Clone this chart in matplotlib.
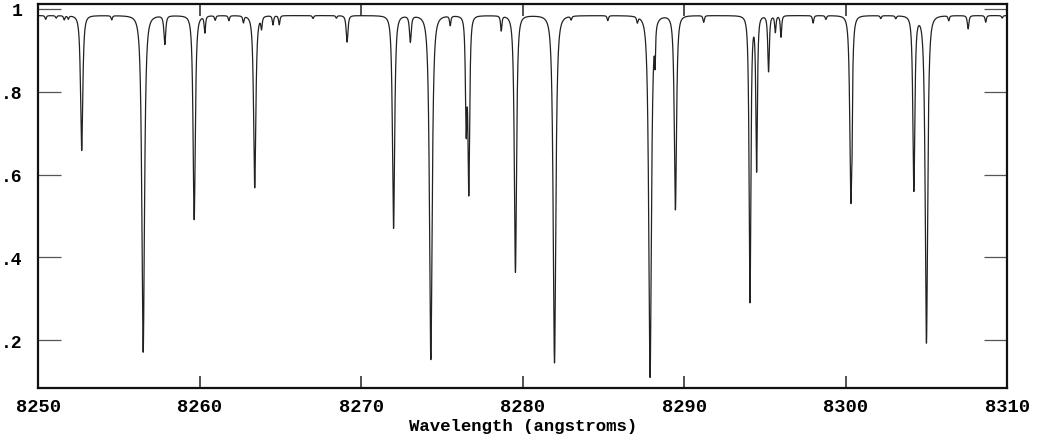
import numpy as np
import matplotlib.pyplot as plt
from matplotlib.ticker import FuncFormatter

# continuum level and absorption lines
continuum = 0.984

# strong / medium lines: centre (angstrom), minimum flux, half width (angstrom)
line_centres = [8252.68, 8256.49, 8257.83, 8259.65, 8260.31, 8263.40, 8263.82,
                8269.12, 8272.00, 8273.04, 8274.31, 8276.50, 8276.66, 8278.67,
                8279.55, 8281.97, 8287.89, 8288.20, 8289.46, 8294.08, 8294.49,
                8295.23, 8300.33, 8300.40, 8304.23, 8305.01, 8307.59]
line_minima = [0.658, 0.171, 0.915, 0.491, 0.944, 0.568, 0.956,
               0.920, 0.470, 0.921, 0.153, 0.72, 0.56, 0.948,
               0.364, 0.145, 0.110, 0.90, 0.515, 0.291, 0.610,
               0.849, 0.533, 0.86, 0.561, 0.193, 0.952]
line_widths = [0.10, 0.12, 0.08, 0.10, 0.06, 0.10, 0.06,
               0.08, 0.10, 0.08, 0.12, 0.07, 0.08, 0.06,
               0.10, 0.12, 0.12, 0.04, 0.10, 0.08, 0.07,
               0.07, 0.10, 0.025, 0.09, 0.11, 0.07]

# weak lines along the continuum
weak_centres = [8250.45, 8251.10, 8251.60, 8251.85, 8254.54, 8260.95, 8261.80,
                8262.70, 8264.53, 8264.92, 8267.01, 8268.46, 8275.51, 8283.00,
                8285.27, 8287.10, 8291.21, 8295.65, 8296.00, 8297.99, 8298.78,
                8302.18, 8303.11, 8306.39, 8308.68, 8309.70]
weak_minima = [0.975, 0.978, 0.974, 0.976, 0.974, 0.973, 0.972,
               0.968, 0.962, 0.962, 0.977, 0.978, 0.961, 0.975,
               0.972, 0.970, 0.968, 0.944, 0.932, 0.966, 0.975,
               0.977, 0.977, 0.972, 0.968, 0.978]

x_ticks = [8250, 8260, 8270, 8280, 8290, 8300, 8310]
y_ticks = [0.2, 0.4, 0.6, 0.8, 1.0]

wave = np.linspace(8250, 8310, 24001)
flux = np.full_like(wave, continuum)
for c, m, w in zip(line_centres + weak_centres,
                   line_minima + weak_minima,
                   line_widths + [0.06] * len(weak_centres)):
    d = 1 - m / continuum
    flux *= 1 - d * (1 + ((wave - c) / w) ** 2) ** -1.4

fig = plt.figure(figsize=(10.4, 4.39), dpi=100)
ax = fig.add_axes([38.4 / 1040, 1 - 389 / 439, (1007 - 38.4) / 1040, (389 - 5) / 439])
ax.plot(wave, flux, color="#222222", lw=0.9)

ax.set_xlim(8250, 8310)
ax.set_ylim(0.0845, 1.012)
ax.set_xticks(x_ticks)
ax.set_yticks(y_ticks)
ax.yaxis.set_major_formatter(FuncFormatter(lambda v, p: "1" if v >= 0.999 else f"{v:.1f}".lstrip("0")))

for s in ax.spines.values():
    s.set_linewidth(1.6)
    s.set_color("#111111")

ax.tick_params(axis="x", which="both", direction="in", top=True, bottom=True,
               length=8.5, width=1.2, pad=7, color="#333333")
ax.tick_params(axis="y", which="both", direction="in", left=True, right=True,
               length=16.5, width=0.9, pad=11.5, color="#555555")
for lab in ax.get_xticklabels():
    lab.set_fontfamily("Liberation Mono")
    lab.set_fontweight("bold")
    lab.set_fontsize(13.5)
for lab in ax.get_yticklabels():
    lab.set_fontfamily("Liberation Mono")
    lab.set_fontweight("bold")
    lab.set_fontsize(13)

ax.set_xlabel("Wavelength (angstroms)", fontfamily="Liberation Mono",
              fontweight="bold", fontsize=12.5)
ax.xaxis.set_label_coords(0.5, -0.0794)

fig.savefig("out.png", dpi=100)
